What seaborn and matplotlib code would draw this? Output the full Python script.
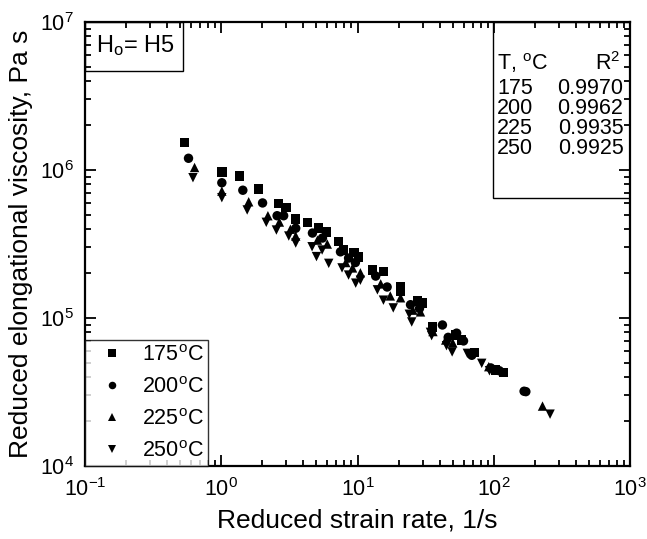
import numpy as np
import pandas as pd
import matplotlib
matplotlib.use("Agg")
import matplotlib.pyplot as plt
import seaborn as sns
from matplotlib.patches import Rectangle
from matplotlib.ticker import LogLocator, NullFormatter

# data (reduced strain rate 1/s, reduced viscosity Pa s)
x175 = [0.537, 1.01, 1.36, 1.88, 2.64, 2.99, 3.52, 4.29, 5.17, 5.92, 7.28, 7.93, 9.4, 10.2,
        12.9, 15.5, 20.7, 20.7, 27.6, 29.8, 35.4, 52.6, 58.1, 72.5, 103, 118]
y175 = [1.53e6, 9.7e5, 9.1e5, 7.45e5, 5.96e5, 5.6e5, 4.67e5, 4.43e5, 4.06e5, 3.81e5, 3.28e5,
        2.88e5, 2.76e5, 2.58e5, 2.11e5, 2.07e5, 1.63e5, 1.52e5, 1.3e5, 1.26e5, 8.7e4, 7.7e4,
        7.1e4, 5.83e4, 4.46e4, 4.27e4]
x200 = [0.575, 1.01, 1.44, 2.01, 2.57, 2.87, 3.52, 4.67, 5.53, 7.5, 8.6, 9.65, 13.6, 16.5,
        24.5, 28.5, 42, 46.3, 53.4, 60, 69, 95, 110, 167, 172]
y200 = [1.2e6, 8.2e5, 7.3e5, 5.99e5, 4.91e5, 4.91e5, 4.04e5, 3.75e5, 3.47e5, 2.8e5, 2.54e5,
        2.37e5, 1.92e5, 1.62e5, 1.23e5, 1.16e5, 8.97e4, 7.4e4, 7.9e4, 7.0e4, 5.6e4, 4.6e4,
        4.4e4, 3.2e4, 3.18e4]
x225 = [0.637, 1.01, 1.59, 2.2, 2.67, 3.22, 3.52, 5.08, 6.0, 8.2, 9.2, 10.5, 14.8, 17.4,
        20.7, 25.5, 29, 35.8, 44.4, 50, 91.9, 228]
y225 = [1.04e6, 7.2e5, 6.1e5, 4.91e5, 4.45e5, 3.98e5, 3.58e5, 3.36e5, 3.16e5, 2.37e5, 2.18e5,
        2.02e5, 1.7e5, 1.41e5, 1.37e5, 1.13e5, 1.1e5, 8.1e4, 7.1e4, 6.8e4, 4.69e4, 2.54e4]
x250 = [0.62, 1.01, 1.55, 2.14, 2.54, 3.13, 3.52, 4.64, 5.0, 5.5, 6.15, 7.7, 8.6, 9.7, 10.5,
        14.0, 15.5, 18.3, 24, 25, 34.3, 35, 45, 49.5, 64, 81.6, 93, 259]
y250 = [8.87e5, 6.5e5, 5.37e5, 4.43e5, 3.93e5, 3.58e5, 3.21e5, 3.03e5, 2.6e5, 2.88e5, 2.34e5,
        2.18e5, 1.95e5, 1.72e5, 1.8e5, 1.55e5, 1.32e5, 1.17e5, 1.06e5, 9.4e4, 8.0e4, 7.6e4,
        6.5e4, 5.9e4, 5.77e4, 4.94e4, 4.4e4, 2.24e4]

temps = ["175", "200", "225", "250"]
r2 = ["0.9970", "0.9962", "0.9935", "0.9925"]

sns.set_style("ticks")
plt.rcParams["font.family"] = ["Liberation Sans", "DejaVu Sans"]
plt.rcParams["mathtext.fontset"] = "custom"
plt.rcParams["mathtext.rm"] = "Liberation Sans"
plt.rcParams["mathtext.it"] = "Liberation Sans:italic"
for k in ["text.color", "axes.labelcolor", "xtick.color", "ytick.color", "axes.edgecolor"]:
    plt.rcParams[k] = "black"

labels = [t + r"$^\mathrm{o}$C" for t in temps]
df = pd.concat([
    pd.DataFrame({"rate": x175, "visc": y175, "T": labels[0]}),
    pd.DataFrame({"rate": x200, "visc": y200, "T": labels[1]}),
    pd.DataFrame({"rate": x225, "visc": y225, "T": labels[2]}),
    pd.DataFrame({"rate": x250, "visc": y250, "T": labels[3]}),
])

fig = plt.figure(figsize=(6.47, 5.39), dpi=100)
ax = fig.add_axes([85 / 647, 73 / 539, 545 / 647, 444 / 539])

sns.scatterplot(data=df, x="rate", y="visc", style="T",
                markers=dict(zip(labels, ["s", "o", "^", "v"])),
                color="black", s=46, linewidth=0, ax=ax)

ax.set_xscale("log")
ax.set_yscale("log")
ax.set_xlim(0.1, 1000)
ax.set_ylim(1e4, 1e7)
ax.xaxis.set_minor_locator(LogLocator(base=10, subs=np.arange(2, 10), numticks=20))
ax.yaxis.set_minor_locator(LogLocator(base=10, subs=np.arange(2, 10), numticks=20))
ax.xaxis.set_minor_formatter(NullFormatter())
ax.yaxis.set_minor_formatter(NullFormatter())
ax.tick_params(which="both", direction="in", top=True, right=True, width=1.3, labelsize=15.5)
ax.tick_params(which="major", length=8)
ax.tick_params(which="minor", length=4)
ax.tick_params(axis="x", which="major", pad=9)
ax.tick_params(axis="y", which="major", pad=8)
for sp in ax.spines.values():
    sp.set_linewidth(1.6)

ax.set_xlabel("Reduced strain rate, 1/s", fontsize=19, labelpad=5)
ax.set_ylabel("Reduced elongational viscosity, Pa s", fontsize=19, labelpad=5)

handles, labs = ax.get_legend_handles_labels()
leg = ax.legend(handles, labs, loc="lower left", bbox_to_anchor=(0, 0), borderaxespad=0,
                fontsize=15.5, frameon=True, fancybox=False, edgecolor="black",
                labelspacing=0.51, handlelength=2.08, handletextpad=0.36, borderpad=0.2,
                markerscale=0.8)
leg.get_frame().set_linewidth(1.0)

# H_o box
ax.add_patch(Rectangle((0, 0.89), 0.18, 0.11, transform=ax.transAxes, fill=False,
                       edgecolor="black", linewidth=1.0))
ax.text(0.093, 0.947, r"H$_\mathrm{o}$= H5", transform=ax.transAxes, ha="center",
        va="center", fontsize=17)

# R^2 table
ax.add_patch(Rectangle((0.749, 0.604), 0.251, 0.396, transform=ax.transAxes, fill=False,
                       edgecolor="black", linewidth=1.0))
ax.text(0.756, 0.907, r"T, $^\mathrm{o}$C", transform=ax.transAxes, ha="left",
        va="center", fontsize=15.5)
ax.text(0.983, 0.907, r"R$^2$", transform=ax.transAxes, ha="right", va="center", fontsize=15.5)
for i, (t, r) in enumerate(zip(temps, r2)):
    yy = 0.85 - i * 0.045
    ax.text(0.756, yy, t, transform=ax.transAxes, ha="left", va="center", fontsize=15.5)
    ax.text(0.988, yy, r, transform=ax.transAxes, ha="right", va="center", fontsize=15.5)

fig.savefig("out.png", dpi=100)
